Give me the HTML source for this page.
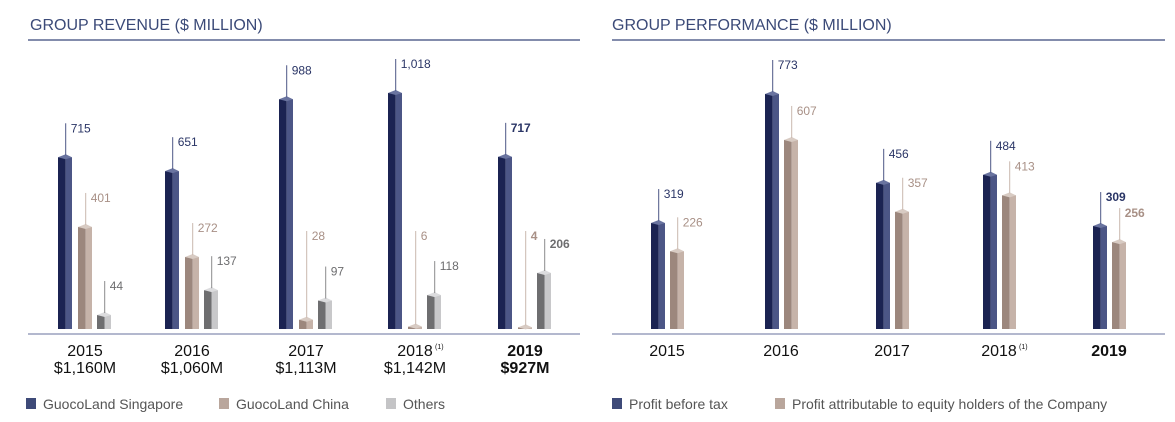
<!DOCTYPE html>
<html><head><meta charset="utf-8">
<style>
body{margin:0;background:#fff;width:1175px;height:422px;overflow:hidden;font-family:"Liberation Sans",sans-serif}
svg{position:absolute;left:0;top:0}
</style></head>
<body>
<svg id="c" width="1175" height="422"></svg>
<script>
const revYears=["2015","2016","2017","2018","2019"];
const revTotals=["$1,160M","$1,060M","$1,113M","$1,142M","$927M"];
const revSingapore=[715,651,988,1018,717];
const revChina=[401,272,28,6,4];
const revOthers=[44,137,97,118,206];
const perfYears=["2015","2016","2017","2018","2019"];
const perfPBT=[319,773,456,484,309];
const perfPATMI=[226,607,357,413,256];

const NS="http://www.w3.org/2000/svg";
const svg=document.getElementById('c');
function mk(tag,attrs,parent){const e=document.createElementNS(NS,tag);for(const k in attrs)e.setAttribute(k,attrs[k]);(parent||svg).appendChild(e);return e;}
function txt(x,y,s,attrs,parent){const t=mk('text',Object.assign({x:x,y:y},attrs),parent);t.textContent=s;return t;}

const base=329;
const revScale=v=>base-Math.pow(v/1018,0.9)*236;
const perfScale=v=>base-Math.pow(v/773,0.9)*235;
const pal={navy:["#1b2352","#4c5686","#6a74a0"],tan:["#9c877d","#c6b3a9","#d8cbc3"],grey:["#6e6e70","#c8c8ca","#dcdcde"]};
const lineCol={navy:"#4c5686",tan:"#c9b8ae",grey:"#8a8a8c"};
const textCol={navy:"#2a3566",tan:"#a89086",grey:"#6d6d6f"};

function bar(g,x,v,scale,kind,minLabelY,bold,name){
  const top=scale(v),w=14,c=pal[kind];
  const grp=mk('g',{},g);
  
  
  mk('rect',{x:x,y:top,width:w*0.55,height:base-top,fill:c[0]},grp);
  mk('rect',{x:x+w*0.55,y:top,width:w*0.45,height:base-top,fill:c[1]},grp);
  mk('polygon',{points:`${x},${top} ${x+w*0.55},${top-3} ${x+w},${top} ${x+w*0.55},${top+2}`,fill:c[2]},grp);
  let ly=top-25; if(minLabelY!==null) ly=Math.min(ly,minLabelY);
  const lx=x+w*0.55;
  mk('line',{x1:lx,y1:top-2,x2:lx,y2:ly-9,stroke:lineCol[kind],'stroke-width':1},grp);
  const t=txt(lx+5,ly,v.toLocaleString('en-US'),{'font-size':12,fill:textCol[kind],'font-weight':bold?'bold':'normal'},grp);
  
  
}

const titleCol="#3b4a78";
const h1=txt(30,30,"GROUP REVENUE ($ MILLION)",{'font-size':16,fill:titleCol});


mk('line',{x1:28,y1:40,x2:580,y2:40,stroke:"#5a6690",'stroke-width':1.5});
const h2=txt(612,30,"GROUP PERFORMANCE ($ MILLION)",{'font-size':16,fill:titleCol});


mk('line',{x1:612,y1:40,x2:1165,y2:40,stroke:"#5a6690",'stroke-width':1.5});

mk('line',{x1:28,y1:334,x2:580,y2:334,stroke:"#9aa0bd",'stroke-width':1.5});
mk('line',{x1:612,y1:334,x2:1165,y2:334,stroke:"#9aa0bd",'stroke-width':1.5});

const g1=mk('g',{});


const revX=[58,165,279,388,498];
revYears.forEach((y,i)=>{
  const x=revX[i],b=i===4;
  bar(g1,x,revSingapore[i],revScale,'navy',null,b,'bar-singapore-'+y);
  bar(g1,x+20,revChina[i],revScale,'tan',240,b,'bar-china-'+y);
  bar(g1,x+39,revOthers[i],revScale,'grey',null,b,'bar-others-'+y);
  const cx=x+27;
  const t=txt(cx,356,y,{'font-size':16,fill:"#111",'text-anchor':'middle','font-weight':b?'bold':'normal'},g1);
  
  
  if(y==="2018"){txt(cx+20,349,"(1)",{'font-size':7,fill:"#111"},g1);}
  const t2=txt(cx,373,revTotals[i],{'font-size':16,fill:"#111",'text-anchor':'middle','font-weight':b?'bold':'normal'},g1);
  
  
});

const g2=mk('g',{});


const perfX=[651,765,876,983,1093];
perfYears.forEach((y,i)=>{
  const x=perfX[i],b=i===4;
  bar(g2,x,perfPBT[i],perfScale,'navy',null,b,'bar-pbt-'+y);
  bar(g2,x+19,perfPATMI[i],perfScale,'tan',null,b,'bar-patmi-'+y);
  const cx=x+16;
  const t=txt(cx,356,y,{'font-size':16,fill:"#111",'text-anchor':'middle','font-weight':b?'bold':'normal'},g2);
  
  
  if(y==="2018"){txt(cx+20,349,"(1)",{'font-size':7,fill:"#111"},g2);}
});

function legend(x,col,label,name){
  const g=mk('g',{});
  
  
  mk('rect',{x:x,y:398,width:10,height:11,fill:col},g);
  txt(x+17,409,label,{'font-size':14,fill:"#555"},g);
}
legend(26,"#3e4a78","GuocoLand Singapore",'legend-singapore');
legend(219,"#b9a69c","GuocoLand China",'legend-china');
legend(386,"#c4c4c6","Others",'legend-others');
legend(612,"#3e4a78","Profit before tax",'legend-pbt');
legend(775,"#b9a69c","Profit attributable to equity holders of the Company",'legend-patmi');
</script>
</body></html>
